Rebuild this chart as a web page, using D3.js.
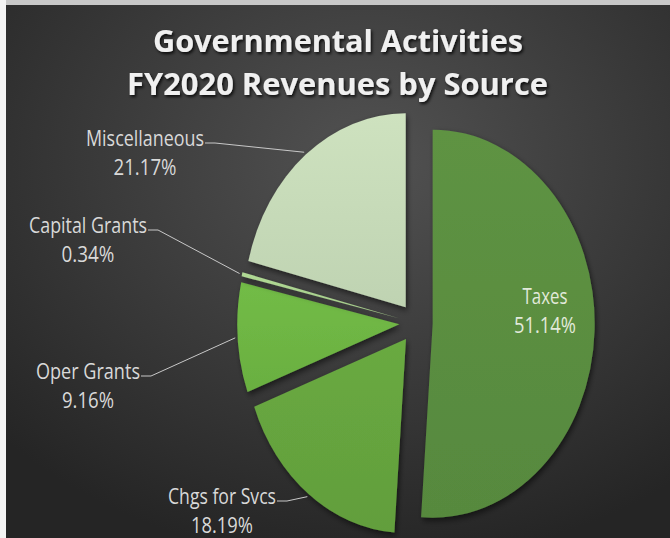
<!DOCTYPE html>
<html>
<head>
<meta charset="utf-8">
<script src="https://cdn.jsdelivr.net/npm/d3@7"></script>
<style>
  body { margin: 0; background: #2b2b2b; overflow: hidden; }
  svg { display: block; }
</style>
</head>
<body>
<svg id="chart" width="670" height="538"></svg>
<script>
// ---- data ----
var categories = ["Taxes", "Chgs for Svcs", "Oper Grants", "Capital Grants", "Miscellaneous"];
var shares = [51.14, 18.19, 9.16, 0.34, 21.17];
var titleLines = ["Governmental Activities", "FY2020 Revenues by Source"];

// ---- layout / style ----
var width = 670, height = 538;
var cx = 416, cy = 323, R = 194, sx = 0.835, explode = 20;
var colors = ["#5a8d40", "#65a33e", "#6db443", "#a9d08e", "#c5d9b7"];
// label center x, first baseline, fitted widths of the two lines
var labelLayout = [
  { x: 545, y: 304, w: [45, 62] },
  { x: 222, y: 504, w: [108, 62] },
  { x: 88, y: 379, w: [104, 52] },
  { x: 88, y: 233, w: [118, 53] },
  { x: 145, y: 146, w: [118, 63] }
];
var lineGap = 29;

var svg = d3.select("#chart");
var defs = svg.append("defs");

// background
var bg = defs.append("radialGradient").attr("id", "bg")
  .attr("cx", "0.55").attr("cy", "0.3").attr("r", "0.75");
bg.append("stop").attr("offset", "0%").attr("stop-color", "#525252");
bg.append("stop").attr("offset", "100%").attr("stop-color", "#252525");
svg.append("rect").attr("width", width).attr("height", height).attr("fill", "url(#bg)");
svg.append("rect").attr("width", width).attr("height", 5).attr("fill", "#c8c8c8");
svg.append("rect").attr("width", 6).attr("height", height).attr("fill", "#f4f4f4");

var shadow = defs.append("filter").attr("id", "shadow")
  .attr("x", "-20%").attr("y", "-20%").attr("width", "140%").attr("height", "140%");
shadow.append("feDropShadow").attr("dx", 2).attr("dy", 3).attr("stdDeviation", 3)
  .attr("flood-color", "#000").attr("flood-opacity", 0.55);

var tshadow = defs.append("filter").attr("id", "tshadow");
tshadow.append("feDropShadow").attr("dx", 1.5).attr("dy", 2).attr("stdDeviation", 1.5)
  .attr("flood-color", "#000").attr("flood-opacity", 0.8);

colors.forEach(function (c, i) {
  var g = defs.append("linearGradient").attr("id", "g" + i)
    .attr("x1", 0).attr("y1", 0).attr("x2", 0).attr("y2", 1);
  g.append("stop").attr("offset", "0%").attr("stop-color", d3.color(c).brighter(0.12));
  g.append("stop").attr("offset", "100%").attr("stop-color", d3.color(c).darker(0.08));
});

// ---- pie ----
var pie = d3.pie().sort(null).value(function (d) { return d; });
var arc = d3.arc().innerRadius(0).outerRadius(R);
var arcs = pie(shares);

function mid(d) { return (d.startAngle + d.endAngle) / 2; }
function sliceCenter(d) {
  var a = mid(d);
  return [cx + sx * explode * Math.sin(a), cy - explode * Math.cos(a)];
}

svg.append("g")
  .selectAll("path")
  .data(arcs)
  .enter()
  .append("path")
  .attr("d", arc)
  .attr("transform", function (d) {
    var c = sliceCenter(d);
    return "translate(" + c[0] + "," + c[1] + ") scale(" + sx + ",1)";
  })
  .attr("fill", function (d, i) { return "url(#g" + i + ")"; })
  .attr("filter", "url(#shadow)");

// ---- leader lines ----
svg.append("g")
  .selectAll("path")
  .data(arcs.filter(function (d, i) { return i > 0; }))
  .enter()
  .append("path")
  .attr("d", function (d) {
    var i = d.index, L = labelLayout[i];
    var c = sliceCenter(d), a = mid(d);
    var ex = c[0] + sx * (R + 3) * Math.sin(a), ey = c[1] - (R + 3) * Math.cos(a);
    var x0 = L.x + L.w[0] / 2 + 1, y0 = L.y - 3;
    var x1 = Math.min(x0 + 10, ex);
    return "M" + x0 + "," + y0 + "L" + x1 + "," + y0 + "L" + ex + "," + ey;
  })
  .attr("fill", "none")
  .attr("stroke", "#c8c8c8")
  .attr("stroke-width", 1);

// ---- labels ----
var labels = svg.append("g")
  .style("font-family", "'Open Sans', sans-serif")
  .style("font-size", "21px");

arcs.forEach(function (d, i) {
  var L = labelLayout[i];
  var lines = [categories[i], shares[i].toFixed(2) + "%"];
  lines.forEach(function (t, k) {
    labels.append("text")
      .text(t)
      .attr("x", L.x - L.w[k] / 2)
      .attr("y", L.y + k * lineGap)
      .attr("textLength", L.w[k])
      .attr("lengthAdjust", "spacingAndGlyphs")
      .attr("fill", i === 0 ? "#e2eadb" : "#d9d9d9");
  });
});

// ---- title ----
var titleLeft = [153, 127], titleWidth = [370, 421], titleBase = [52, 95];
svg.append("g")
  .selectAll("text")
  .data(titleLines)
  .enter()
  .append("text")
  .text(function (d) { return d; })
  .attr("x", function (d, i) { return titleLeft[i]; })
  .attr("y", function (d, i) { return titleBase[i]; })
  .attr("textLength", function (d, i) { return titleWidth[i]; })
  .attr("lengthAdjust", "spacingAndGlyphs")
  .attr("fill", "#f0f0f0")
  .attr("filter", "url(#tshadow)")
  .style("font-family", "'Open Sans', sans-serif")
  .style("font-weight", "bold")
  .style("font-size", "31px");
</script>
</body>
</html>
